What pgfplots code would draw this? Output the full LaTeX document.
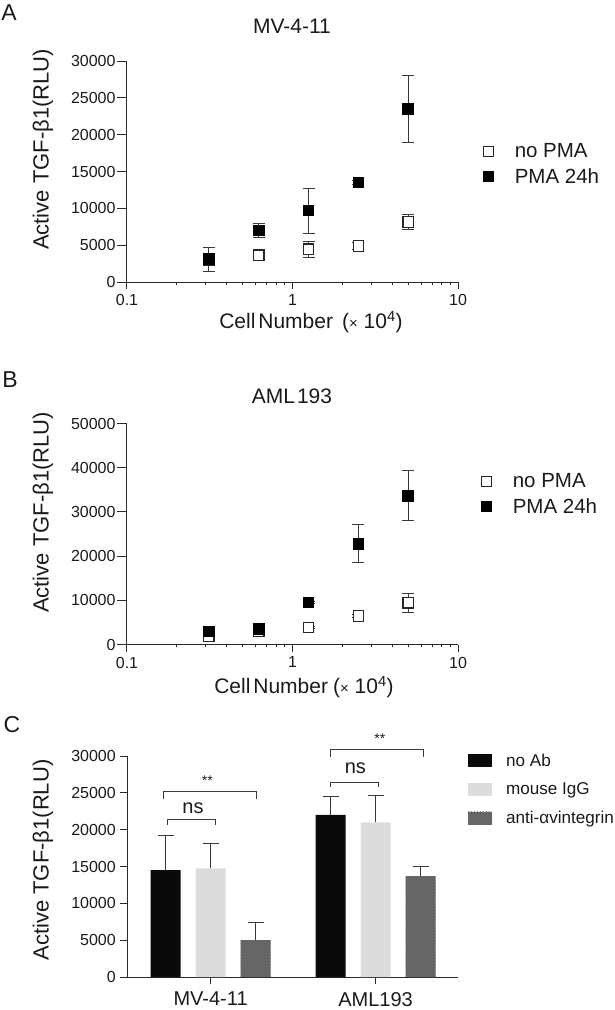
\documentclass[border=0pt]{standalone}
\usepackage{fontspec}
\setmainfont{Liberation Sans}
\usepackage{pgfplots}
\usepackage{pgfplotstable}
\pgfplotsset{compat=1.18}
\usetikzlibrary{patterns}
\definecolor{txt}{HTML}{1A1A1A}
\definecolor{axc}{HTML}{2A2A2A}
\definecolor{lgray}{HTML}{DCDCDC}
\definecolor{dgray}{HTML}{6B6B6B}
\definecolor{hatchc}{HTML}{5E5E5E}
\definecolor{ebc}{HTML}{3A3A3A}

\pgfplotstableread{
x y e
0.3125 2900 0
0.625 3650 300
1.25 4450 1100
2.5 4900 500
5 8150 1000
}\Aopen
\pgfplotstableread{
x y e
0.3125 3100 1650
0.625 7000 900
1.25 9700 3050
2.5 13500 300
5 23500 4600
}\Afill
\pgfplotstableread{
x y e
0.3125 1900 300
0.625 2900 300
1.25 3850 300
2.5 6450 300
5 9450 2150
}\Bopen
\pgfplotstableread{
x y e
0.3125 2900 300
0.625 3500 300
1.25 9500 300
2.5 22800 4250
5 33650 5700
}\Bfill
% panel C: bars placed at group +/- offsets (group centres 0 and 1)
\pgfplotstableread{
x y e
-0.273 14500 4650
0.727 22000 2500
}\Cnoab
\pgfplotstableread{
x y e
0 14750 3350
1 21000 3600
}\Cigg
\pgfplotstableread{
x y e
0.273 5000 2400
1.273 13700 1300
}\Canti

\pgfplotsset{
  panel/.style={
    scale only axis, width=331pt, height=221pt,
    axis lines=left, axis line style={-, line width=1pt, draw=axc},
    tick align=outside,
    tick style={line width=1pt, draw=axc},
    scaled y ticks=false, /pgf/number format/assume math mode=true,
    tick label style={font=\fontsize{16}{19}\selectfont, text=txt},
    clip=false,
  },
  scopen/.style={only marks, mark=square*, mark size=5.2pt,
    mark options={fill=white, draw=black!85, line width=1.2pt},
    error bars/.cd, y dir=both, y explicit,
    error bar style={line width=1pt, ebc},
    error mark options={rotate=90, mark size=6pt, line width=1pt, ebc}},
  scfill/.style={only marks, mark=square*, mark size=5.2pt,
    mark options={fill=black, draw=black, line width=1.2pt},
    error bars/.cd, y dir=both, y explicit,
    error bar style={line width=1pt, ebc},
    error mark options={rotate=90, mark size=6pt, line width=1pt, ebc}},
  barlegend/.style={legend image code/.code={\path[##1, draw=none] (0pt,-6.5pt) rectangle (24pt,6.5pt);}},
  barerr/.style={error bars/.cd, y dir=plus, y explicit,
    error bar style={line width=1pt, ebc},
    error mark options={rotate=90, mark size=8pt, line width=1pt, ebc}},
}

\begin{document}
\begin{tikzpicture}[x=1pt,y=1pt]
\path[use as bounding box] (0,0) rectangle (615,-1010);

% ---------- Panel A ----------
\begin{axis}[panel, xmode=log, xmin=0.1, xmax=10,
  xtick={0.1,1,10}, xticklabels={0.1,1,10}, minor x tick num=0,
  at={(127pt,-282pt)}, anchor=south west,
  x tick style={/pgfplots/major tick length=7pt},
  y tick style={/pgfplots/major tick length=10pt},
  xticklabel style={inner sep=0pt, yshift=-8pt},
  yticklabel style={inner sep=0pt, xshift=-7pt},
  ymin=0, ymax=30000, ytick={0,5000,10000,15000,20000,25000,30000},
  yticklabels={0,5000,10000,15000,20000,25000,30000},
  legend style={draw=none, fill=none, font=\fontsize{20.5}{24}\selectfont, text=txt,
      cells={anchor=west}, row sep=5pt, inner sep=0pt,
      at={(1.076,0.635)}, anchor=north west},
  legend image code/.code={\draw[#1] plot coordinates {(6pt,0pt)};}]
\addplot[scopen] table[x=x, y=y, y error=e] {\Aopen};
\addlegendentry{\hspace{19pt}no PMA}
\addplot[scfill] table[x=x, y=y, y error=e] {\Afill};
\addlegendentry{\hspace{19pt}PMA 24h}
\end{axis}

% ---------- Panel B ----------
\begin{axis}[panel, xmode=log, xmin=0.1, xmax=10,
  xtick={0.1,1,10}, xticklabels={0.1,1,10}, minor x tick num=0,
  at={(127pt,-644.5pt)}, anchor=south west,
  x tick style={/pgfplots/major tick length=7pt},
  y tick style={/pgfplots/major tick length=10pt},
  xticklabel style={inner sep=0pt, yshift=-8pt},
  yticklabel style={inner sep=0pt, xshift=-7pt},
  ymin=0, ymax=50000, ytick={0,10000,20000,30000,40000,50000},
  yticklabels={0,10000,20000,30000,40000,50000},
  legend style={draw=none, fill=none, font=\fontsize{20.5}{24}\selectfont, text=txt,
      cells={anchor=west}, row sep=5pt, inner sep=0pt,
      at={(1.07,0.783)}, anchor=north west},
  legend image code/.code={\draw[#1] plot coordinates {(6pt,0pt)};}]
\addplot[scopen] table[x=x, y=y, y error=e] {\Bopen};
\addlegendentry{\hspace{19pt}no PMA}
\addplot[scfill] table[x=x, y=y, y error=e] {\Bfill};
\addlegendentry{\hspace{19pt}PMA 24h}
\end{axis}

% ---------- Panel C ----------
\begin{axis}[panel, at={(127pt,-977pt)}, anchor=south west,
  xmin=-0.507, xmax=1.5, ymin=0, ymax=30000,
  xtick={0,1}, xticklabels={MV-4-11,AML193},
  major tick length=7pt,
  x tick label style={font=\fontsize{20}{24}\selectfont},
  xticklabel style={inner sep=0pt, yshift=-8pt},
  yticklabel style={inner sep=0pt, xshift=-4pt},
  ytick={0,5000,10000,15000,20000,25000,30000},
  yticklabels={0,5000,10000,15000,20000,25000,30000},
  legend style={draw=none, fill=none, font=\fontsize{17.1}{24}\selectfont, text=txt,
      cells={anchor=west}, row sep=11pt, inner sep=0pt,
      at={(1.03,1.02)}, anchor=north west}]
\addplot[ybar, bar width=30pt, bar shift=0pt, fill=black!96, draw=none, barlegend, barerr]
  table[x=x, y=y, y error=e] {\Cnoab};
\addlegendentry{\hspace{12pt}no Ab}
\addplot[ybar, bar width=30pt, bar shift=0pt, fill=lgray, draw=none, barlegend, barerr]
  table[x=x, y=y, y error=e] {\Cigg};
\addlegendentry{\hspace{12pt}mouse IgG}
\addplot[ybar, bar width=30pt, bar shift=0pt, fill=dgray, draw=none,
  postaction={pattern=north east lines, pattern color=hatchc}, barlegend, barerr]
  table[x=x, y=y, y error=e] {\Canti};
\addlegendentry{\hspace{12pt}anti-αvintegrin}
% significance brackets
\draw[line width=1pt, ebc] (axis cs:-0.261,20700) -- (axis cs:-0.261,21400) -- (axis cs:0.028,21400) -- (axis cs:0.028,20700);
\node[font=\fontsize{20}{24}\selectfont, text=txt] at (axis cs:-0.107,22900) {ns};
\draw[line width=1pt, ebc] (axis cs:-0.285,24100) -- (axis cs:-0.285,25230) -- (axis cs:0.276,25230) -- (axis cs:0.276,24100);
\node[font=\fontsize{14}{16}\selectfont, text=txt] at (axis cs:-0.02,26600) {**};
\draw[line width=1pt, ebc] (axis cs:0.727,25770) -- (axis cs:0.727,26360) -- (axis cs:1.016,26360) -- (axis cs:1.016,25770);
\node[font=\fontsize{20}{24}\selectfont, text=txt] at (axis cs:0.878,28300) {ns};
\draw[line width=1pt, ebc] (axis cs:0.729,29850) -- (axis cs:0.729,30940) -- (axis cs:1.293,30940) -- (axis cs:1.293,29850);
\node[font=\fontsize{14}{16}\selectfont, text=txt] at (axis cs:1.026,32300) {**};
\end{axis}

% ---------- texts ----------
\node[font=\fontsize{23}{27}\selectfont, text=txt] at (9,-13) {A};
\node[font=\fontsize{23}{27}\selectfont, text=txt] at (10,-380) {B};
\node[font=\fontsize{23}{27}\selectfont, text=txt] at (12,-725) {C};
\node[font=\fontsize{21}{25}\selectfont, text=txt] at (292,-26) {MV-4-11};
\node[font=\fontsize{21}{25}\selectfont, text=txt] at (292,-396) {AML\hspace{2pt}193};
\node[rotate=90, font=\fontsize{22}{26}\selectfont, text=txt] at (43,-149.5) {Active TGF-β1(RLU)};
\node[rotate=90, font=\fontsize{22}{26}\selectfont, text=txt] at (43,-512.5) {Active TGF-β1(RLU)};
\node[rotate=90, font=\fontsize{22}{26}\selectfont, text=txt] at (43,-860) {Active TGF-β1(RLU)};
\node[font=\fontsize{21}{25}\selectfont, text=txt] at (311,-322) {Cell\hspace{3pt}Number\hspace{9pt}({\fontsize{15}{15}\selectfont ×} 10\textsuperscript{4})};
\node[font=\fontsize{21}{25}\selectfont, text=txt] at (304,-687) {Cell\hspace{3pt}Number\hspace{5pt}({\fontsize{15}{15}\selectfont ×} 10\textsuperscript{4})};
\end{tikzpicture}
\end{document}
